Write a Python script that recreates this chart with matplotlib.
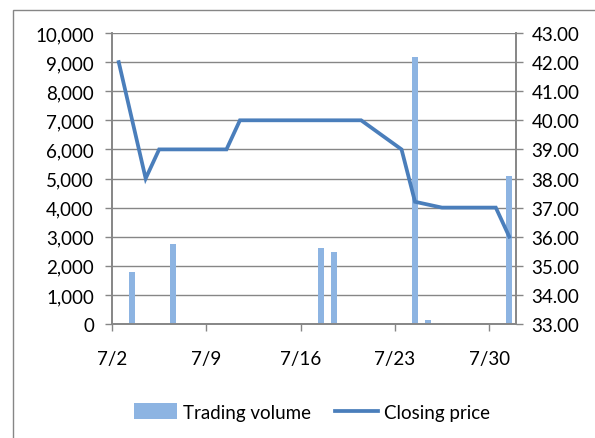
import datetime as dt
import matplotlib
matplotlib.use("Agg")
import matplotlib.pyplot as plt
import matplotlib.dates as mdates
from matplotlib.patches import Rectangle
from matplotlib.ticker import FuncFormatter

# Trading days (July 2012)
days = [2, 3, 4, 5, 6, 9, 10, 11, 12, 13, 16, 17, 18, 19, 20,
        23, 24, 25, 26, 27, 30, 31]
closing_price = [42.0, 40.0, 38.0, 39.0, 39.0, 39.0, 39.0, 40.0, 40.0, 40.0,
                 40.0, 40.0, 40.0, 40.0, 40.0, 39.0, 37.2, 37.1, 37.0, 37.0,
                 37.0, 36.0]
trading_volume = [0, 1780, 40, 0, 2740, 0, 0, 0, 0, 0,
                  0, 2620, 2460, 0, 0, 0, 9180, 150, 40, 0,
                  0, 5090]
tick_days = [2, 9, 16, 23, 30]

plt.rcParams['font.family'] = ['Lato', 'DejaVu Sans']

dates = [dt.date(2012, 7, d) for d in days]
# excel date axis puts values in the middle of the day
x = [mdates.date2num(d) + 0.5 for d in dates]

fig = plt.figure(figsize=(5.95, 4.39), dpi=100)
ax = fig.add_axes([112 / 595, 1 - 325 / 439, 404 / 595, 291 / 439])
ax2 = ax.twinx()

bar_color = '#8DB4E2'
line_color = '#4A7EBB'
grid_color = '#868686'

bars = ax.bar(x, trading_volume, width=0.45, color=bar_color, zorder=2,
              label='Trading volume')
line, = ax2.plot(x, closing_price, color=line_color, linewidth=2.7,
                 label='Closing price', solid_joinstyle='miter')

ax.set_ylim(0, 10000)
ax.set_yticks(range(0, 10001, 1000))
ax.yaxis.set_major_formatter(FuncFormatter(lambda v, p: f"{int(v):,}"))
ax2.set_ylim(33, 43)
ax2.set_yticks(range(33, 44))
ax2.yaxis.set_major_formatter(FuncFormatter(lambda v, p: f"{v:.2f}"))

ax.set_xlim(mdates.date2num(dt.date(2012, 7, 2)), mdates.date2num(dt.date(2012, 8, 1)))
ax.set_xticks([mdates.date2num(dt.date(2012, 7, d)) for d in tick_days])
ax.set_xticklabels([f"7/{d}" for d in tick_days])

ax.grid(axis='y', color=grid_color, linewidth=1, zorder=0)
ax.set_axisbelow(True)

for a in (ax, ax2):
    a.spines['top'].set_visible(False)
    for s in ('left', 'right', 'bottom'):
        a.spines[s].set_color(grid_color)
        a.spines[s].set_linewidth(1.2)
    a.tick_params(colors=grid_color, labelcolor='black', labelsize=13.5, length=5, width=1)
ax.tick_params(axis='x', pad=14)
ax.tick_params(axis='y', pad=8)
ax2.tick_params(axis='y', pad=6)

fig.legend([bars, line], ['Trading volume', 'Closing price'], loc='center',
           bbox_to_anchor=(312 / 595, 1 - 413 / 439), ncol=2, frameon=False,
           fontsize=13.5, handlelength=2.3, handleheight=0.9, columnspacing=1.3,
           handletextpad=0.3)

# chart area border
fig.patches.append(Rectangle((13 / 595, -0.1), 1.2, 1 - 11 / 439 + 0.1,
                             transform=fig.transFigure, fill=False,
                             edgecolor=grid_color, linewidth=1))

fig.savefig('out.png', dpi=100)
